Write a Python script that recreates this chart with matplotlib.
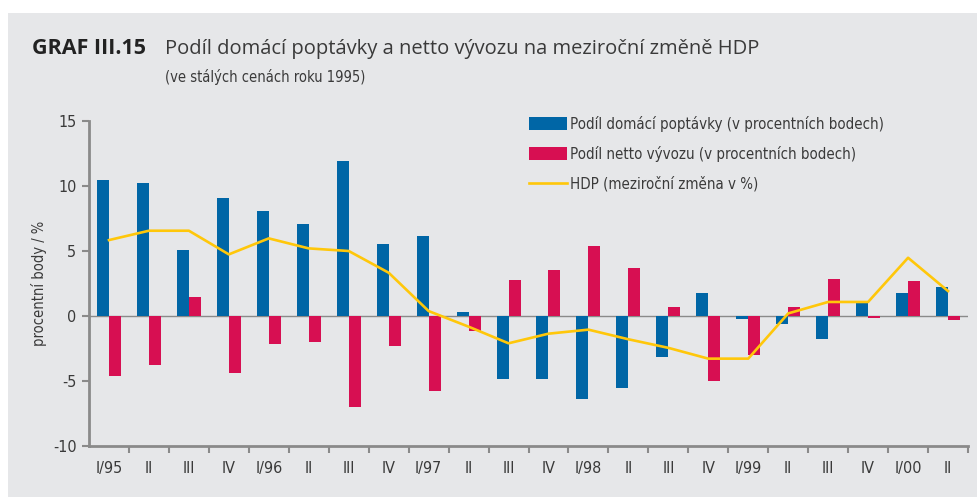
import matplotlib
matplotlib.use("Agg")
import matplotlib.pyplot as plt
from matplotlib.patches import Rectangle
import numpy as np

categories = ["I/95", "II", "III", "IV", "I/96", "II", "III", "IV", "I/97", "II", "III", "IV",
              "I/98", "II", "III", "IV", "I/99", "II", "III", "IV", "I/00", "II"]
domestic = [10.45, 10.25, 5.07, 9.07, 8.1, 7.07, 11.96, 5.56, 6.12, 0.33, -4.82, -4.82,
            -6.35, -5.5, -3.13, 1.74, -0.26, -0.59, -1.74, 1.15, 1.79, 2.25]
net_exports = [-4.6, -3.74, 1.46, -4.41, -2.18, -2.0, -7.0, -2.28, -5.76, -1.13, 2.79, 3.51,
               5.35, 3.72, 0.67, -5.0, -3.02, 0.67, 2.82, -0.15, 2.66, -0.33]
gdp = [5.84, 6.56, 6.56, 4.74, 5.97, 5.2, 5.0, 3.33, 0.38, -0.82, -2.1, -1.36,
       -1.05, -1.79, -2.45, -3.28, -3.28, 0.2, 1.08, 1.08, 4.48, 1.92]

BLUE = "#0066a6"
RED = "#d70f52"
YELLOW = "#ffc70a"
BG = "#e6e7e9"
AX = "#8a8a8a"
TXT = "#3a3a3a"

plt.rcParams['font.family'] = ['DejaVu Sans']
plt.rcParams['font.stretch'] = 'condensed'

fig = plt.figure(figsize=(9.78, 4.97), dpi=100)
fig.patch.set_facecolor("white")
fig.patches.append(Rectangle((8/978, 0), 1 - 8/978, 1 - 13/497, transform=fig.transFigure,
                             facecolor=BG, edgecolor="none", zorder=-10))

ax = fig.add_axes([89/978, 1 - 446/497, (968 - 89)/978, (446 - 121)/497])
ax.set_facecolor("none")
ax.set_zorder(5)

x = np.arange(len(categories))
w = 0.3
b1 = ax.bar(x - w/2, domestic, width=w, color=BLUE, label="Podíl domácí poptávky (v procentních bodech)", zorder=2)
b2 = ax.bar(x + w/2, net_exports, width=w, color=RED, label="Podíl netto vývozu (v procentních bodech)", zorder=2)
l1, = ax.plot(x, gdp, color=YELLOW, lw=1.9, label="HDP (meziroční změna v %)", zorder=3)
ax.axhline(0, color=AX, lw=1.0, zorder=1)

ax.set_xlim(-0.5, len(categories) - 0.5)
ax.set_ylim(-10, 15)
ax.set_yticks([-10, -5, 0, 5, 10, 15])
ax.set_yticklabels(["-10", "-5", "0", "5", "10", "15"])
ax.set_xticks(x)
ax.set_xticklabels(categories)
ax.set_xticks(np.arange(0.5, len(categories), 1.0), minor=True)
ax.tick_params(axis="x", which="major", length=0, pad=11, labelsize=11.5, labelcolor=TXT)
ax.tick_params(axis="x", which="minor", length=5, width=1.5, color=AX)
ax.tick_params(axis="y", length=5, width=1.5, color=AX, labelsize=11.5, labelcolor=TXT, pad=4)

for s in ["top", "right"]:
    ax.spines[s].set_visible(False)
for s in ["left", "bottom"]:
    ax.spines[s].set_color(AX)
    ax.spines[s].set_linewidth(2)

ax.set_ylabel("procentní body / %", fontsize=10.5, color=TXT, labelpad=4)

leg = ax.legend([b1, b2, l1], [b1.get_label(), b2.get_label(), l1.get_label()],
                loc="upper left", bbox_to_anchor=((523 - 89)/879, 1.035), frameon=False,
                fontsize=10.8, handlelength=2.55, handleheight=0.9, handletextpad=0.2,
                labelspacing=0.95, borderaxespad=0)
for t in leg.get_texts():
    t.set_color(TXT)

fig.text(32/978, 1 - 49/497, "GRAF III.15", fontsize=15.5, fontweight="bold", color="#222222",
         va="center", ha="left", family=['Open Sans', 'DejaVu Sans'], fontstretch='normal')
fig.text(165/978, 1 - 49/497, "Podíl domácí poptávky a netto vývozu na meziroční změně HDP",
         fontsize=14.5, color=TXT, va="center", ha="left", family=['Open Sans', 'DejaVu Sans'],
         fontstretch='normal')
fig.text(165/978, 1 - 77/497, "(ve stálých cenách roku 1995)", fontsize=10.5, color=TXT,
         va="center", ha="left")

fig.savefig("out.png", dpi=100)
